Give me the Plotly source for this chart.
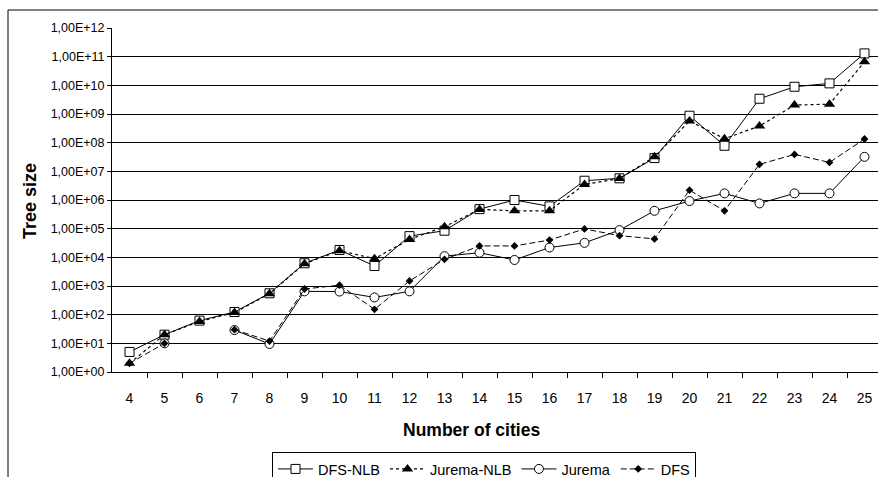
import plotly.graph_objects as go

cities = list(range(4, 26))

dfs_nlb = [5, 20, 62, 124, 556, 6200, 18000, 5000, 55000, 85000, 480000, 1.0e6, 6.0e5,
           4.7e6, 5.7e6, 2.9e7, 8.7e8, 7.8e7, 3.4e9, 8.9e9, 1.17e10, 1.3e11]
jurema_nlb = [2, 20, 58, 118, 540, 6000, 17000, 9000, 42000, 117000, 470000, 4.2e5, 4.2e5,
              3.5e6, 5.6e6, 3.2e7, 5.7e8, 1.38e8, 3.8e8, 2.05e9, 2.2e9, 6.6e10]
jurema = [None, 10, None, 29, 9.5, 650, 640, 400, 650, 11000, 14500, 8100, 22000,
          32000, 89000, 4.2e5, 9.2e5, 1.7e6, 7.6e5, 1.7e6, 1.7e6, 3.2e7]
dfs = [2, 10, None, 30, 12, 785, 1070, 154, 1500, 8500, 25000, 25000, 40000,
       98000, 57000, 44000, 2.2e6, 4.2e5, 1.75e7, 3.9e7, 2.05e7, 1.34e8]

ytick_vals = [10 ** k for k in range(0, 13)]
ytick_text = ["1,00E+%02d" % k for k in range(0, 13)]

FONT = "Liberation Sans, Arial, sans-serif"

fig = go.Figure()
fig.add_trace(go.Scatter(
    x=cities, y=dfs_nlb, name="DFS-NLB", mode="lines+markers",
    line=dict(color="black", width=1),
    marker=dict(symbol="square", size=9, color="white", line=dict(color="black", width=1)),
))
fig.add_trace(go.Scatter(
    x=cities, y=jurema_nlb, name="Jurema-NLB", mode="lines+markers",
    line=dict(color="black", width=1.2, dash="dot"),
    marker=dict(symbol="triangle-up", size=10, color="black"),
))
fig.add_trace(go.Scatter(
    x=cities, y=jurema, name="Jurema", mode="lines+markers",
    line=dict(color="black", width=1),
    marker=dict(symbol="circle", size=9, color="white", line=dict(color="black", width=1)),
))
fig.add_trace(go.Scatter(
    x=cities, y=dfs, name="DFS", mode="lines+markers",
    line=dict(color="black", width=1, dash="6px,3px"),
    marker=dict(symbol="diamond", size=6, color="black"),
))

W, H = 878, 477
L, R, T, B = 112, 0, 28, 105
pw = W - L - R
ph = H - T - B


def px(x):
    return (x - L) / pw


def py(y):
    return (H - B - y) / ph


fig.update_layout(
    width=W, height=H,
    margin=dict(l=L, r=R, t=T, b=B, autoexpand=False),
    paper_bgcolor="white", plot_bgcolor="white",
    font=dict(family=FONT, color="black"),
    showlegend=True,
    legend=dict(
        orientation="h", xref="container", yref="container",
        x=272 / W, y=1 - 452 / H, xanchor="left", yanchor="top",
        bordercolor="black", borderwidth=1, bgcolor="white",
        font=dict(size=14.5, family=FONT), itemwidth=35,
        tracegroupgap=0,
    ),
    xaxis=dict(
        range=[3.5, 3.5 + pw / 35.0],
        tickvals=cities, ticktext=[str(c) for c in cities],
        ticks="", showgrid=False, zeroline=False,
        showline=True, linecolor="black", linewidth=1,
        tickfont=dict(size=14, family=FONT),
        ticklabelstandoff=13,
        minor=dict(tickvals=[c + 0.5 for c in cities], ticks="outside", ticklen=5,
                   tickcolor="black", showgrid=False),
    ),
    yaxis=dict(
        type="log", range=[0, 12],
        tickvals=ytick_vals, ticktext=ytick_text,
        ticks="outside", ticklen=4, tickcolor="black",
        showgrid=True, gridcolor="black", gridwidth=1,
        showline=True, linecolor="black", linewidth=1,
        zeroline=False,
        tickfont=dict(size=12.5, family=FONT),
    ),
    annotations=[
        dict(text="<b>Tree size</b>", x=px(30), y=py(201), xref="paper", yref="paper",
             textangle=-90, showarrow=False, font=dict(size=18, family=FONT),
             xanchor="center", yanchor="middle"),
        dict(text="<b>Number of cities</b>", x=px(471), y=py(430), xref="paper", yref="paper",
             showarrow=False, font=dict(size=17.5, family=FONT),
             xanchor="center", yanchor="middle"),
    ],
    shapes=[
        dict(type="rect", xref="paper", yref="paper",
             x0=px(8), x1=px(900), y0=py(500), y1=py(10),
             line=dict(color="black", width=1), layer="below"),
    ],
)

fig.write_html(
    "out.html",
    config={"displayModeBar": False},
    post_script="document.body.style.margin='0px';document.body.style.overflow='hidden';",
)
